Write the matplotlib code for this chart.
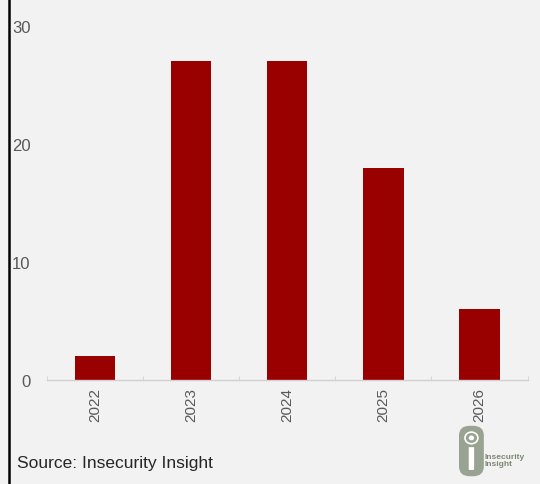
import numpy as np
import matplotlib
matplotlib.use('Agg')
import matplotlib.pyplot as plt
from matplotlib.patches import FancyBboxPatch, Circle

years = ['2022', '2023', '2024', '2025', '2026']
counts = [2, 27, 27, 18, 6]
y_ticks = [0, 10, 20, 30]

bg = '#f2f2f2'
bar_color = '#990000'
label_gray = '#595959'

plt.rcParams['font.family'] = ['Liberation Sans', 'DejaVu Sans']

fig = plt.figure(figsize=(5.4, 4.85), dpi=100, facecolor=bg)
ax = fig.add_axes([0.087, 0.2144, 0.89, 0.7299], facecolor=bg)

x = np.arange(len(years))
ax.bar(x, counts, width=0.42, color=bar_color, zorder=2)

ax.set_xlim(-0.5, len(years) - 0.5)
ax.set_ylim(0, 30)
ax.set_yticks(y_ticks)
ax.set_yticklabels([str(t) for t in y_ticks], color=label_gray, fontsize=12)
ax.set_xticks(x)
ax.set_xticklabels(years, rotation=90, color=label_gray, fontsize=11)
ax.set_xticks(np.arange(len(years) + 1) - 0.5, minor=True)
ax.tick_params(axis='x', which='major', length=0, pad=5)
ax.tick_params(axis='x', which='minor', length=3, direction='in', color='#d0d0d0')
ax.tick_params(axis='y', length=0, pad=12)

for side in ['top', 'right', 'left']:
    ax.spines[side].set_visible(False)
ax.spines['bottom'].set_color('#d0d0d0')
ax.spines['bottom'].set_linewidth(1.0)

# left frame line
fig.add_artist(plt.Line2D([0.016, 0.016], [0, 1], color='black', linewidth=1.8,
                          transform=fig.transFigure))

fig.text(0.031, 0.045, 'Source: Insecurity Insight', fontsize=12.5,
         color='#262626', va='center', ha='left')

# simple logo stand-in
logo_color = '#8a9580'
fig.patches.append(FancyBboxPatch((0.852, 0.018), 0.042, 0.1,
                                  boxstyle='round,pad=0.002,rounding_size=0.02',
                                  facecolor=logo_color, edgecolor='none',
                                  transform=fig.transFigure, alpha=0.85))
fig.patches.append(Circle((0.873, 0.095), 0.012, facecolor='none',
                          edgecolor='white', linewidth=1.2,
                          transform=fig.transFigure))
fig.patches.append(Circle((0.873, 0.095), 0.005, facecolor='white',
                          edgecolor='none', transform=fig.transFigure))
fig.patches.append(FancyBboxPatch((0.869, 0.03), 0.008, 0.045,
                                  boxstyle='round,pad=0.001',
                                  facecolor='white', edgecolor='none',
                                  transform=fig.transFigure))
fig.text(0.897, 0.05, 'Insecurity\nInsight', fontsize=6, color='#7d8873',
         va='center', ha='left', linespacing=1.0, fontweight='bold')

fig.savefig('out.png', dpi=100, facecolor=bg)
